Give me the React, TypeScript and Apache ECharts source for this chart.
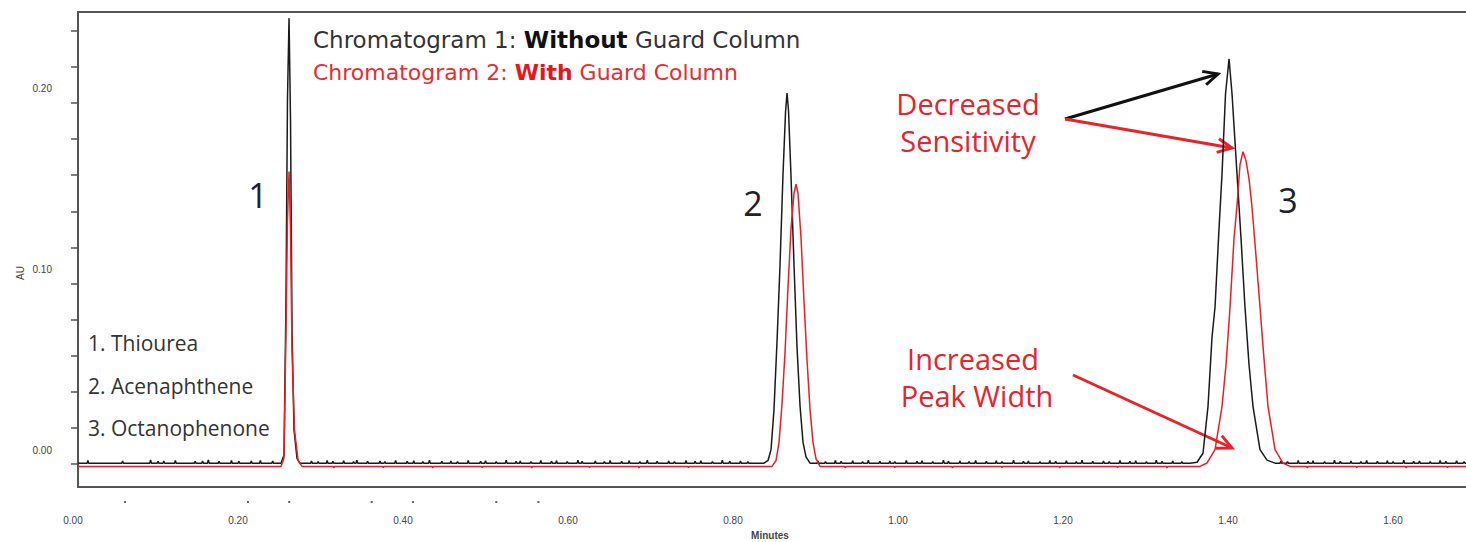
import React, { useEffect, useRef } from "react";
import * as echarts from "echarts";

// ---- axis values ----
const X_MIN = 0;
const X_MAX = 1.6824;
const Y_MIN = -0.0127;
const Y_MAX = 0.2504;
const yTickValues = [0, 0.02, 0.04, 0.06, 0.08, 0.1, 0.12, 0.14, 0.16, 0.18, 0.2, 0.22, 0.24];
const yLabelValues = [0, 0.1, 0.2];

// ---- baselines ----
const blackBase = 0.0005;
const redBase = -0.0013;

// ---- peaks: [minutes, AU] ----
const blackPeak1 = [[0.2461, 0.0005], [0.2497, 0.005], [0.2521, 0.091], [0.2539, 0.2017], [0.2558, 0.247], [0.2576, 0.19], [0.2594, 0.074], [0.2618, 0.019], [0.2655, 0.003], [0.2691, 0.0005]];
const redPeak1 = [[0.2461, -0.0013], [0.2497, 0.0033], [0.2521, 0.074], [0.2539, 0.135], [0.2558, 0.162], [0.2576, 0.13], [0.2594, 0.063], [0.2624, 0.019], [0.2667, 0.002], [0.2715, -0.0013]];

const blackPeak2 = [[0.8315, 0.0005], [0.8364, 0.002], [0.84, 0.008], [0.8436, 0.03], [0.8473, 0.068], [0.8509, 0.11], [0.8545, 0.16], [0.8576, 0.195], [0.8594, 0.2055], [0.8612, 0.196], [0.8642, 0.16], [0.8679, 0.11], [0.8715, 0.065], [0.8752, 0.032], [0.8788, 0.012], [0.8824, 0.004], [0.8873, 0.0005]];
const redPeak2 = [[0.8412, -0.0013], [0.8461, 0.002], [0.8497, 0.012], [0.8533, 0.033], [0.857, 0.062], [0.8606, 0.098], [0.8642, 0.13], [0.8679, 0.15], [0.8703, 0.155], [0.8727, 0.15], [0.8764, 0.125], [0.88, 0.09], [0.8836, 0.058], [0.8873, 0.03], [0.8909, 0.012], [0.8945, 0.003], [0.8994, -0.0013]];

const blackPeak3 = [[1.3479, 0.0005], [1.3564, 0.001], [1.3636, 0.006], [1.3697, 0.032], [1.3745, 0.07], [1.3782, 0.087], [1.383, 0.13], [1.3867, 0.161], [1.3909, 0.205], [1.3952, 0.2244], [1.3988, 0.205], [1.4048, 0.161], [1.4097, 0.125], [1.4145, 0.087], [1.4194, 0.055], [1.4242, 0.032], [1.4327, 0.008], [1.4412, 0.0022], [1.4509, 0.0005]];
const redPeak3 = [[1.36, -0.0013], [1.3685, 0.0006], [1.3782, 0.008], [1.3867, 0.032], [1.3915, 0.055], [1.3964, 0.087], [1.4012, 0.125], [1.4048, 0.143], [1.4085, 0.166], [1.4121, 0.173], [1.4158, 0.168], [1.4194, 0.158], [1.423, 0.1424], [1.4279, 0.115], [1.4327, 0.087], [1.4376, 0.058], [1.4424, 0.032], [1.4509, 0.008], [1.4606, 0.0005], [1.4691, -0.0013]];

// ---- baseline noise spikes: [minutes, AU above baseline] ----
const blackSpikes = [
  [0.012, 0.0015], [0.054, 0.0012], [0.088, 0.0018], [0.097, 0.001], [0.104, 0.0012], [0.118, 0.0015], [0.142, 0.001], [0.151, 0.0012], [0.158, 0.0018], [0.171, 0.001], [0.186, 0.0015], [0.195, 0.001], [0.21, 0.0012], [0.221, 0.0015], [0.236, 0.0012],
  [0.283, 0.0012], [0.291, 0.0008], [0.302, 0.0015], [0.309, 0.001], [0.322, 0.0013], [0.334, 0.0008], [0.338, 0.0016], [0.351, 0.001], [0.366, 0.0012], [0.372, 0.0009], [0.385, 0.0015], [0.399, 0.001], [0.407, 0.0013], [0.418, 0.0008], [0.426, 0.0016], [0.441, 0.001], [0.452, 0.0012], [0.46, 0.0009], [0.473, 0.0015], [0.488, 0.001], [0.494, 0.0013], [0.507, 0.0008], [0.519, 0.0016], [0.531, 0.001], [0.536, 0.0012], [0.549, 0.0009], [0.561, 0.0015], [0.574, 0.001], [0.58, 0.0013], [0.593, 0.0008], [0.606, 0.0016], [0.611, 0.001], [0.627, 0.0012], [0.638, 0.0009], [0.645, 0.0015], [0.659, 0.001], [0.668, 0.0013], [0.681, 0.0008], [0.69, 0.0016], [0.702, 0.001], [0.716, 0.0012], [0.723, 0.0009], [0.737, 0.0015], [0.748, 0.001], [0.755, 0.0013], [0.769, 0.0008], [0.781, 0.0016], [0.79, 0.001], [0.803, 0.0012], [0.812, 0.0009],
  [0.897, 0.0012], [0.906, 0.0009], [0.918, 0.0015], [0.925, 0.001], [0.939, 0.0013], [0.951, 0.0008], [0.958, 0.0016], [0.972, 0.001], [0.984, 0.0012], [0.99, 0.0009], [1.004, 0.0015], [1.017, 0.001], [1.023, 0.0013], [1.036, 0.0008], [1.049, 0.0016], [1.055, 0.001], [1.069, 0.0012], [1.08, 0.0009], [1.088, 0.0015], [1.101, 0.001], [1.113, 0.0013], [1.12, 0.0008], [1.134, 0.0016], [1.146, 0.001], [1.152, 0.0012], [1.166, 0.0009], [1.178, 0.0015], [1.185, 0.001], [1.198, 0.0013], [1.21, 0.0008], [1.217, 0.0016], [1.23, 0.001], [1.243, 0.0012], [1.25, 0.0009], [1.263, 0.0015], [1.275, 0.001], [1.282, 0.0013], [1.295, 0.0008], [1.307, 0.0016], [1.314, 0.001], [1.327, 0.0012], [1.338, 0.0009],
  [1.458, 0.0012], [1.466, 0.0009], [1.479, 0.0015], [1.491, 0.001], [1.497, 0.0013], [1.511, 0.0008], [1.523, 0.0016], [1.53, 0.001], [1.543, 0.0012], [1.555, 0.0009], [1.562, 0.0015], [1.575, 0.001], [1.587, 0.0013], [1.594, 0.0008], [1.607, 0.0016], [1.619, 0.001], [1.626, 0.0012], [1.639, 0.0009], [1.651, 0.0015], [1.658, 0.001], [1.671, 0.0013], [1.68, 0.0008],
];
const redSpikes = [
  [0.31, -0.0008], [0.37, -0.0006], [0.43, -0.0008], [0.49, -0.0006], [0.55, -0.0008], [0.62, -0.0006], [0.68, -0.0008], [0.74, -0.0006],
  [0.93, -0.0008], [0.99, -0.0006], [1.06, -0.0008], [1.12, -0.0006], [1.19, -0.0008], [1.26, -0.0006], [1.32, -0.0008],
  [1.49, -0.0008], [1.55, -0.0006], [1.61, -0.0008], [1.66, -0.0006],
];

// small event marks printed below the time axis (minutes)
const eventMarks = [0.057, 0.206, 0.256, 0.356, 0.406, 0.507, 0.558];

function buildTrace(base: number, spikes: number[][], peaks: number[][][]) {
  const pts: number[][] = [[X_MIN, base], [X_MAX, base]];
  spikes.forEach(([t, h]) => {
    pts.push([t - 0.001, base], [t, base + h], [t + 0.001, base]);
  });
  peaks.forEach((p) => p.forEach((q) => pts.push(q)));
  pts.sort((a, b) => a[0] - b[0]);
  return pts;
}

function arrow(x1: number, y1: number, x2: number, y2: number, color: string) {
  const ang = Math.atan2(y2 - y1, x2 - x1);
  const L = 16;
  const a = 0.45;
  const p1 = [x2 - L * Math.cos(ang - a), y2 - L * Math.sin(ang - a)];
  const p2 = [x2 - L * Math.cos(ang + a), y2 - L * Math.sin(ang + a)];
  return [
    { type: "line", shape: { x1, y1, x2, y2 }, style: { stroke: color, lineWidth: 3 } },
    { type: "polyline", shape: { points: [p1, [x2, y2], p2] }, style: { stroke: color, lineWidth: 3, fill: null } },
  ];
}

const RED = "#e8232b";
const DARK = "#222";

export default function App() {
  const ref = useRef<HTMLDivElement>(null);
  useEffect(() => {
    if (!ref.current) return;
    const chart = echarts.init(ref.current, null, { renderer: "svg" });
    const blackData = buildTrace(blackBase, blackSpikes, [blackPeak1, blackPeak2, blackPeak3]);
    const redData = buildTrace(redBase, redSpikes, [redPeak1, redPeak2, redPeak3]);
    const smallFont = { fontFamily: "'Liberation Sans Narrow', 'Liberation Sans', sans-serif", fontSize: 10, color: "#444" };
    const listFont = "'Open Sans', sans-serif";
    chart.setOption({
      animation: false,
      backgroundColor: "#fff",
      grid: { left: 78, right: 0, top: 12, bottom: 55 },
      xAxis: [
        {
          type: "value",
          min: X_MIN,
          max: X_MAX,
          interval: 0.2,
          axisLine: { show: true, onZero: false, lineStyle: { color: "#555", width: 2 } },
          axisTick: { show: false },
          splitLine: { show: false },
          axisLabel: {
            ...smallFont,
            margin: 28,
            padding: [0, 10, 0, 0],
            showMaxLabel: false,
            formatter: (v: number) => v.toFixed(2),
          },
        },
        {
          type: "value",
          position: "top",
          min: X_MIN,
          max: X_MAX,
          axisLine: { show: true, onZero: false, lineStyle: { color: "#555", width: 2 } },
          axisTick: { show: false },
          axisLabel: { show: false },
          splitLine: { show: false },
        },
      ],
      yAxis: {
        type: "value",
        min: Y_MIN,
        max: Y_MAX,
        axisLine: { show: true, onZero: false, lineStyle: { color: "#555", width: 2 } },
        axisTick: { show: true, length: 7, customValues: yTickValues, lineStyle: { color: "#555", width: 1.5 } },
        splitLine: { show: false },
        axisLabel: {
          ...smallFont,
          margin: 26,
          verticalAlign: "bottom",
          padding: [0, 0, 9, 0],
          customValues: yLabelValues,
          formatter: (v: number) => v.toFixed(2),
        },
      },
      series: [
        {
          type: "line",
          data: blackData,
          showSymbol: false,
          symbol: "none",
          lineStyle: { color: "#1a1a1a", width: 1.5 },
          z: 2,
        },
        {
          type: "line",
          data: redData,
          showSymbol: false,
          symbol: "none",
          lineStyle: { color: "#ee1c24", width: 1.5 },
          z: 3,
        },
      ],
      graphic: [
        {
          type: "text",
          x: 313,
          y: 40,
          style: {
            text: "{n|Chromatogram 1: }{b|Without}{n| Guard Column}",
            verticalAlign: "middle",
            rich: {
              n: { fontFamily: "'DejaVu Sans', sans-serif", fontSize: 23, fill: "#333" },
              b: { fontFamily: "'DejaVu Sans', sans-serif", fontSize: 23, fontWeight: "bold", fill: "#111" },
            },
          },
        },
        {
          type: "text",
          x: 313,
          y: 72,
          style: {
            text: "{n|Chromatogram 2: }{b|With}{n| Guard Column}",
            verticalAlign: "middle",
            rich: {
              n: { fontFamily: "'DejaVu Sans', sans-serif", fontSize: 22, fill: "#ee2a30" },
              b: { fontFamily: "'DejaVu Sans', sans-serif", fontSize: 22, fontWeight: "bold", fill: "#e8151c" },
            },
          },
        },
        {
          type: "text",
          x: 88,
          y: 343 - 21.25,
          style: {
            text: "1. Thiourea\n2. Acenaphthene\n3. Octanophenone",
            font: `21px ${listFont}`,
            lineHeight: 42.5,
            fill: "#333",
            verticalAlign: "top",
          },
        },
        { type: "text", x: 258, y: 195, style: { text: "1", font: `34px ${listFont}`, fill: DARK, align: "center", verticalAlign: "middle" } },
        { type: "text", x: 753, y: 203, style: { text: "2", font: `34px ${listFont}`, fill: DARK, align: "center", verticalAlign: "middle" } },
        { type: "text", x: 1288, y: 200, style: { text: "3", font: `34px ${listFont}`, fill: DARK, align: "center", verticalAlign: "middle" } },
        { type: "text", x: 968, y: 103, style: { text: "Decreased", font: `29px ${listFont}`, fill: RED, align: "center", verticalAlign: "middle" } },
        { type: "text", x: 968, y: 140, style: { text: "Sensitivity", font: `29px ${listFont}`, fill: RED, align: "center", verticalAlign: "middle" } },
        { type: "text", x: 973, y: 358, style: { text: "Increased", font: `29px ${listFont}`, fill: RED, align: "center", verticalAlign: "middle" } },
        { type: "text", x: 977, y: 395, style: { text: "Peak Width", font: `29px ${listFont}`, fill: RED, align: "center", verticalAlign: "middle" } },
        { type: "text", x: 20, y: 273, rotation: Math.PI / 2, style: { text: "AU", font: "10px 'Liberation Sans Narrow', 'Liberation Sans', sans-serif", fill: "#444", align: "center", verticalAlign: "middle" } },
        { type: "text", x: 770, y: 535, style: { text: "Minutes", font: "bold 10px 'Liberation Sans Narrow', 'Liberation Sans', sans-serif", fill: "#444", align: "center", verticalAlign: "middle" } },
        ...eventMarks.map((t) => ({
          type: "rect",
          x: 78 + t * 825 - 1,
          y: 501,
          shape: { width: 2, height: 2 },
          style: { fill: "#666" },
        })),
        ...arrow(1065, 119, 1218, 74, "#111"),
        ...arrow(1065, 119, 1232, 148, RED),
        ...arrow(1073, 375, 1232, 448, RED),
      ],
    });
    return () => chart.dispose();
  }, []);
  return <div ref={ref} style={{ position: "fixed", left: 0, top: 0, width: 1466, height: 542, background: "#fff" }} />;
}
